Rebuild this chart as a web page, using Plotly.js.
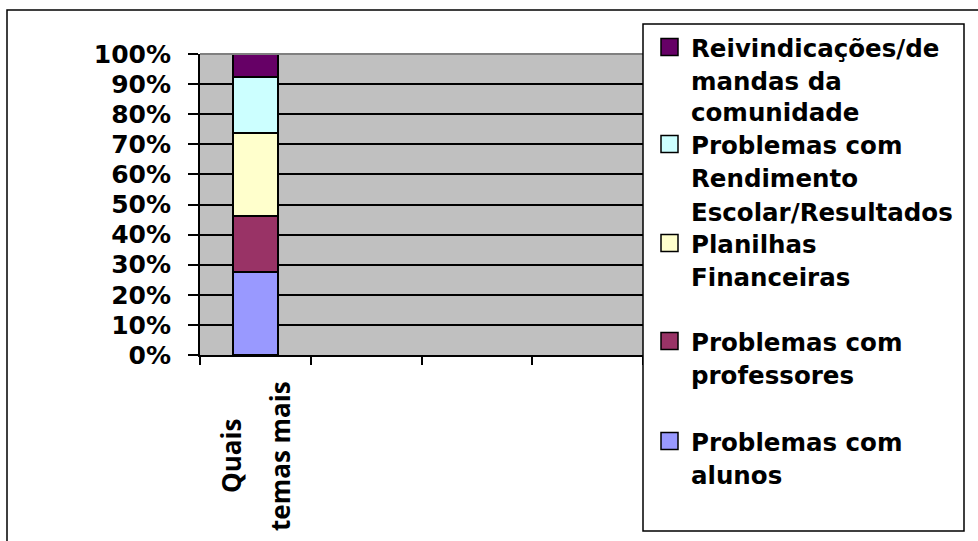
<!DOCTYPE html>
<html>
<head>
<meta charset="utf-8">
<script src="https://cdn.plot.ly/plotly-3.0.1.min.js"></script>
<style>html,body{margin:0;padding:0;background:#fff;}</style>
</head>
<body>
<div id="chart" style="width:978px;height:541px;"></div>
<script>
// ---- data ----
var category = "Quais temas mais";
var categoryLines = ["Quais", "temas mais"];
var seriesNames = [
  "Problemas com alunos",
  "Problemas com professores",
  "Planilhas Financeiras",
  "Problemas com Rendimento Escolar/Resultados",
  "Reivindicações/demandas da comunidade"
];
var seriesValues = [0.275, 0.187, 0.275, 0.186, 0.077];
var seriesColors = ["#9999FF", "#993366", "#FFFFCC", "#CCFFFF", "#660066"];
var legendLines = [
  ["Problemas com", "alunos"],
  ["Problemas com", "professores"],
  ["Planilhas", "Financeiras"],
  ["Problemas com", "Rendimento", "Escolar/Resultados"],
  ["Reivindicações/de", "mandas da", "comunidade"]
];
var yTickVals = [0, 0.1, 0.2, 0.3, 0.4, 0.5, 0.6, 0.7, 0.8, 0.9, 1.0];

// ---- geometry helpers (pixel -> paper) ----
var W = 978, H = 541;
var L = 200, R = 643, T = 54, B = 355;
function px(x) { return (x - L) / (R - L); }
function py(y) { return (B - y) / (B - T); }

var traces = seriesNames.map(function (n, i) {
  return {
    type: "bar",
    x: [0],
    y: [seriesValues[i]],
    name: n,
    width: 0.4,
    marker: { color: seriesColors[i], line: { color: "#000", width: 2 } },
    hoverinfo: "name+y"
  };
});

var shapes = [];
var annotations = [];

// outer chart border
shapes.push({ type: "rect", xref: "paper", yref: "paper",
  x0: px(7), x1: px(990), y0: py(10), y1: py(560),
  line: { color: "#000", width: 1.5 }, fillcolor: "rgba(0,0,0,0)", layer: "below" });
// top plot border (grey)
shapes.push({ type: "line", xref: "paper", yref: "paper",
  x0: 0, x1: 1, y0: 1, y1: 1, line: { color: "#808080", width: 2 } });
// legend box
shapes.push({ type: "rect", xref: "paper", yref: "paper",
  x0: px(643), x1: px(964), y0: py(531), y1: py(24),
  line: { color: "#000", width: 1.5 }, fillcolor: "#fff" });

// legend content (top to bottom: reversed series order)
var legendLineY = [
  [442, 475],
  [342, 375],
  [244, 277],
  [145, 178, 212],
  [48, 81, 113]
];
for (var i = 0; i < seriesNames.length; i++) {
  var yc = legendLineY[i][0] - 1;
  shapes.push({ type: "rect", xref: "paper", yref: "paper",
    x0: px(661), x1: px(678), y0: py(yc + 8.5), y1: py(yc - 8.5),
    line: { color: "#000", width: 1.5 }, fillcolor: seriesColors[i] });
  legendLines[i].forEach(function (t, k) {
    annotations.push({ xref: "paper", yref: "paper", x: px(689), y: py(legendLineY[i][k]),
      xanchor: "left", yanchor: "middle", showarrow: false, text: t,
      font: { family: "DejaVu Sans", size: 24.5, color: "#000", weight: "bold" } });
  });
}

// category label (rotated, two lines)
var catX = [231, 280];
categoryLines.forEach(function (t, k) {
  annotations.push({ xref: "paper", yref: "paper", x: px(catX[k]), y: py(456),
    xanchor: "center", yanchor: "middle", showarrow: false, text: t, textangle: -90,
    font: { family: "Open Sans", size: 26, color: "#000", weight: "bold" } });
});

var layout = {
  width: W, height: H,
  margin: { l: L, r: W - R, t: T, b: H - B, pad: 0 },
  paper_bgcolor: "#fff",
  plot_bgcolor: "#C0C0C0",
  barmode: "stack",
  showlegend: false,
  font: { family: "DejaVu Sans", color: "#000" },
  xaxis: {
    range: [-0.5, 3.5],
    tickvals: [-0.5, 0.5, 1.5, 2.5, 3.5],
    showticklabels: false,
    ticks: "outside", ticklen: 8, tickwidth: 2, tickcolor: "#000",
    showgrid: false, zeroline: false,
    showline: true, linecolor: "#000", linewidth: 2
  },
  yaxis: {
    range: [0, 1],
    tickvals: yTickVals,
    tickformat: ".0%",
    ticks: "outside", ticklen: 10, tickwidth: 2, tickcolor: "#000",
    ticklabelstandoff: 12,
    showgrid: true, gridcolor: "#000", gridwidth: 2,
    zeroline: false,
    showline: true, linecolor: "#000", linewidth: 2,
    tickfont: { family: "DejaVu Sans", size: 25, color: "#000", weight: "bold" }
  },
  shapes: shapes,
  annotations: annotations
};

Plotly.newPlot("chart", traces, layout, { displayModeBar: false, staticPlot: true });
</script>
</body>
</html>
